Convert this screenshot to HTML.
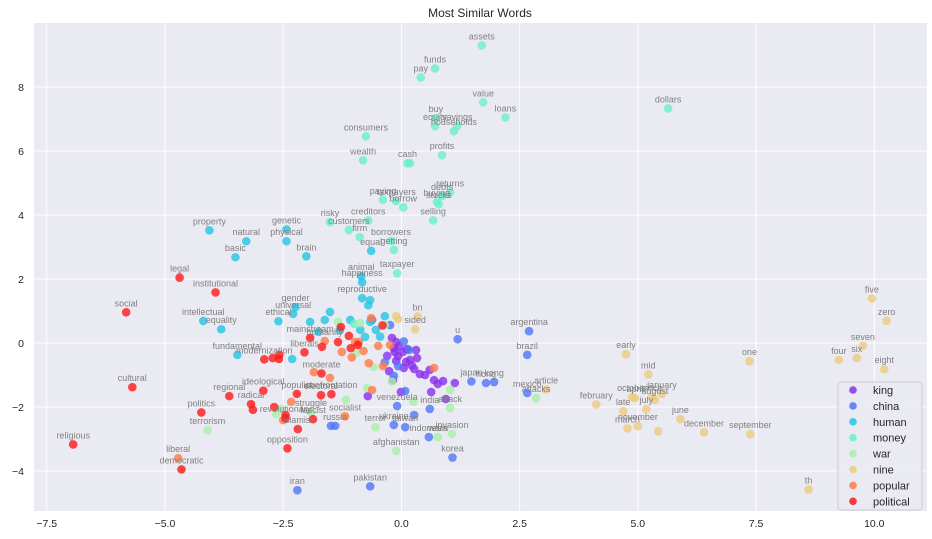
<!DOCTYPE html>
<html><head><meta charset="utf-8">
<style>
html,body{margin:0;padding:0;background:#fff;}
svg{display:block;font-family:"Liberation Sans","DejaVu Sans",sans-serif;}
</style></head>
<body>
<svg id="chart" width="932" height="539" viewBox="0 0 932 539">
<rect x="34" y="23" width="893" height="488" fill="#eaeaf2"/>
<g id="grid"></g>
<g id="ticks"></g>
<g id="points"></g>
<g id="labels"></g>
<text x="480" y="17" text-anchor="middle" font-size="12" fill="#262626">Most Similar Words</text>
<g id="legend"></g>
</svg>
<script>
const xTicks = [-7.5, -5.0, -2.5, 0.0, 2.5, 5.0, 7.5, 10.0];
const xTickLabels = ["\u22127.5","\u22125.0","\u22122.5","0.0","2.5","5.0","7.5","10.0"];
const yTicks = [-4, -2, 0, 2, 4, 6, 8];
const yTickLabels = ["\u22124","\u22122","0","2","4","6","8"];
const seriesNames = ["king","china","human","money","war","nine","popular","political"];
const seriesColors = ["#8b2fee","#4f76f6","#24c4e4","#6af0c8","#a8f0a8","#eccb80","#ff7a48","#ff1818"];

const kingPoints = [["",-0.20,0.16],["",-0.11,0.03],["",-0.16,-0.16],["",-0.14,-0.28],["",-0.07,-0.41],["",0.03,-0.28],["",0.12,-0.19],["",0.18,-0.53],["",0.05,-0.78],["",-0.11,-0.56],["",0.10,-0.59],["",0.27,-0.81],["",0.39,-0.97],["",0.50,-1.0],["",0.60,-0.84],["",0.69,-1.16],["",0.77,-1.28],["",0.63,-1.53],["",0.88,-1.19],["",1.13,-1.25],["",0.94,-1.75],["",-0.18,-1.16],["",-0.01,-1.53],["",-0.71,-1.66],["",-0.26,-0.88],["",0.31,-0.22],["",0.33,-0.47],["",-0.05,-0.10],["",0.22,-0.70],["",-0.30,-0.40]];
const chinaPoints = [["iran",-2.20,-4.60],["pakistan",-0.66,-4.48],["korea",1.08,-3.58],["argentina",2.70,0.37],["brazil",2.66,-0.37],["u",1.19,0.12],["japan",1.48,-1.20],["hong",1.79,-1.25],["kong",1.96,-1.22],["mexico",2.66,-1.56],["india",0.60,-2.06],["indonesia",0.58,-2.94],["",0.27,-2.25],["",0.08,-1.50],["",-0.16,-1.03],["",-0.07,-0.72],["",0.16,-0.22],["russia",-1.40,-2.59],["",-1.49,-2.59],["ukraine",-0.16,-2.56],["taiwan",0.08,-2.63],["venezuela",-0.09,-1.97],["",-0.24,0.56],["",-0.62,0.72],["",-0.35,-0.60],["",0.05,0.05]];
const humanPoints = [["property",-4.06,3.52],["natural",-3.28,3.18],["genetic",-2.43,3.55],["physical",-2.43,3.18],["basic",-3.51,2.68],["brain",-2.01,2.71],["equal",-0.64,2.88],["animal",-0.85,2.09],["intellectual",-4.19,0.69],["equality",-3.81,0.43],["gender",-2.24,1.12],["universal",-2.29,0.91],["ethical",-2.60,0.68],["fundamental",-3.47,-0.37],["",-2.31,-0.5],["happiness",-0.83,1.9],["reproductive",-0.83,1.4],["",-1.93,0.66],["",-1.51,0.97],["",-1.08,0.72],["",-0.66,0.66],["",-0.87,0.41],["",-0.70,1.18],["",-0.66,1.34],["",-0.35,0.84],["",-0.54,0.41],["",-0.77,0.19],["",-1.62,0.72],["",-1.30,0.40],["",-0.45,0.20],["",-1.75,0.35]];
const moneyPoints = [["assets",1.70,9.30],["funds",0.71,8.58],["pay",0.41,8.30],["value",1.73,7.52],["loans",2.20,7.05],["dollars",5.64,7.33],["buy",0.73,7.03],["equity",0.71,6.78],["savings",1.18,6.78],["households",1.11,6.62],["consumers",-0.75,6.46],["wealth",-0.81,5.71],["cash",0.13,5.62],["",0.18,5.62],["profits",0.86,5.87],["returns",1.03,4.71],["debts",0.86,4.59],["buying",0.75,4.41],["stocks",0.79,4.34],["paying",-0.39,4.47],["taxpayers",-0.11,4.44],["borrow",0.04,4.24],["selling",0.67,3.83],["risky",-1.51,3.78],["creditors",-0.70,3.83],["customers",-1.11,3.53],["firm",-0.88,3.31],["borrowers",-0.22,3.19],["getting",-0.16,2.91],["taxpayer",-0.09,2.18],["",-1.00,0.60]];
const warPoints = [["terrorism",-4.10,-2.72],["",-2.55,-2.06],["",-2.65,-2.22],["struggle",-1.91,-2.16],["",-1.17,-1.78],["",-0.59,-0.75],["",-0.73,-1.41],["afghanistan",-0.11,-3.37],["terror",-0.55,-2.63],["",0.25,-1.84],["attack",1.03,-2.03],["",1.03,-1.47],["wars",0.77,-2.94],["invasion",1.07,-2.84],["attacks",2.85,-1.72],["",-0.35,0.56],["",-0.87,0.62],["",-1.34,0.66],["",-0.95,-0.30],["",-0.20,-1.20]];
const ninePoints = [["five",9.95,1.39],["zero",10.26,0.69],["seven",9.76,-0.09],["six",9.63,-0.47],["four",9.25,-0.53],["eight",10.21,-0.82],["th",8.61,-4.58],["one",7.36,-0.57],["early",4.75,-0.35],["mid",5.22,-0.98],["article",3.06,-1.45],["february",4.12,-1.92],["late",4.69,-2.13],["october",4.88,-1.69],["april",4.94,-1.72],["since",5.30,-1.69],["august",5.36,-1.78],["january",5.51,-1.59],["july",5.18,-2.07],["june",5.90,-2.38],["march",4.78,-2.67],["november",5.00,-2.60],["",5.43,-2.76],["december",6.40,-2.79],["september",7.38,-2.85],["bn",0.34,0.83],["sided",0.29,0.43],["",-0.11,0.84],["",-0.07,0.75]];
const popularPoints = [["liberal",-4.72,-3.60],["humanity",-1.62,0.06],["",-1.85,-0.91],["",-1.51,-1.09],["socialist",-1.19,-2.29],["",-2.50,-2.41],["",-2.33,-1.84],["",-0.62,-1.47],["",-1.26,-0.28],["",-0.98,0.03],["",-0.49,-0.09],["",-0.69,-0.63],["",-0.90,0.03],["",-0.24,-0.06],["",-0.39,-0.72],["",0.69,-0.78],["",-0.64,0.78],["",-1.05,-0.45],["",-0.80,-0.25]];
const politicalPoints = [["legal",-4.69,2.04],["institutional",-3.93,1.58],["social",-5.82,0.96],["cultural",-5.69,-1.38],["religious",-6.94,-3.17],["democratic",-4.65,-3.95],["politics",-4.23,-2.17],["ideological",-2.92,-1.49],["regional",-3.64,-1.66],["radical",-3.18,-1.91],["",-3.14,-2.09],["populist",-2.21,-1.59],["revolutionary",-2.45,-2.35],["islamist",-2.19,-2.69],["",-2.69,-2.0],["",-2.45,-2.25],["opposition",-2.41,-3.29],["confrontation",-1.48,-1.60],["fascist",-1.87,-2.38],["moderate",-1.69,-0.95],["liberals",-2.05,-0.29],["mainstream",-1.93,0.16],["modernization",-2.90,-0.51],["",-2.72,-0.47],["",-2.59,-0.50],["",-2.58,-0.37],["",-1.68,-0.12],["",-1.28,0.50],["",-1.11,0.22],["",-0.92,-0.06],["",-1.34,0.03],["",-1.07,-0.16],["electoral",-1.70,-1.63],["",-0.40,0.55]];

const allSeries = [kingPoints, chinaPoints, humanPoints, moneyPoints, warPoints, ninePoints, popularPoints, politicalPoints];

const X0 = 401.4, XS = 47.29, Y0 = 343, YS = 32;
function sx(v){ return X0 + v*XS; }
function sy(v){ return Y0 - v*YS; }
const NS = "http://www.w3.org/2000/svg";
function mk(tag, attrs){ const e=document.createElementNS(NS,tag); for(const k in attrs) e.setAttribute(k, attrs[k]); return e; }

const grid = document.getElementById('grid');
const ticks = document.getElementById('ticks');
xTicks.forEach((t,i)=>{
  const l = mk('line',{x1:sx(t),x2:sx(t),y1:23,y2:511,stroke:'#fff','stroke-width':1});
  
  
  grid.appendChild(l);
  const tx = mk('text',{x:sx(t),y:527,'text-anchor':'middle','font-size':10.5,fill:'#262626'});
  tx.textContent = xTickLabels[i];
  
  
  ticks.appendChild(tx);
});
yTicks.forEach((t,i)=>{
  const l = mk('line',{x1:34,x2:927,y1:sy(t),y2:sy(t),stroke:'#fff','stroke-width':1});
  
  
  grid.appendChild(l);
  const tx = mk('text',{x:24,y:sy(t)+4,'text-anchor':'end','font-size':10.5,fill:'#262626'});
  tx.textContent = yTickLabels[i];
  
  
  ticks.appendChild(tx);
});

const pts = document.getElementById('points');
const lbs = document.getElementById('labels');
allSeries.forEach((ser,si)=>{
  ser.forEach(p=>{
    const c = mk('circle',{cx:sx(p[1]),cy:sy(p[2]),r:4.3,fill:seriesColors[si],'fill-opacity':0.8});
    
    
    pts.appendChild(c);
    if(p[0]){
      const t = mk('text',{x:sx(p[1]),y:sy(p[2])-6,'text-anchor':'middle','font-size':9,fill:'#808080'});
      t.textContent = p[0];
      
      
      lbs.appendChild(t);
    }
  });
});

const lg = document.getElementById('legend');
const box = mk('rect',{x:838,y:382,width:84,height:128,rx:3,fill:'#eaeaf2','fill-opacity':0.8,stroke:'#cccccc'});


lg.appendChild(box);
seriesNames.forEach((n,i)=>{
  const y = 390 + i*15.9;
  const c = mk('circle',{cx:853,cy:y,r:3.8,fill:seriesColors[i],'fill-opacity':0.85});
  
  
  lg.appendChild(c);
  const t = mk('text',{x:873,y:y+4,'font-size':11,fill:'#262626'});
  t.textContent = n;
  
  
  lg.appendChild(t);
});
</script>
</body></html>
